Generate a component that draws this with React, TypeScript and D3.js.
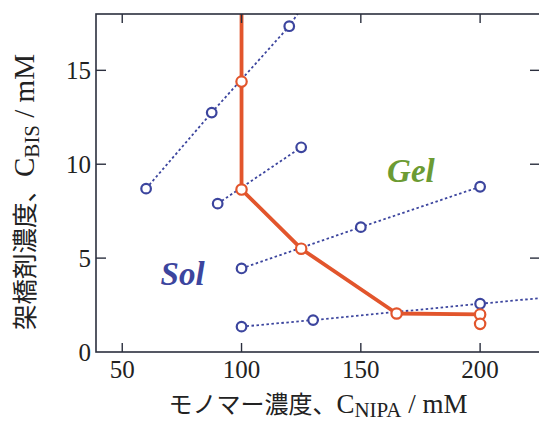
import React from 'react';
import * as d3 from 'd3';

// gel / sol phase diagram: NIPA monomer vs BIS cross-linker concentration
const xTicks = [50, 100, 150, 200];
const yTicks = [0, 5, 10, 15];

// dotted blue series (measured samples)
const series1 = [[60, 8.7], [87.5, 12.75], [120, 17.35]];
const series2 = [[90, 7.9], [125, 10.9]];
const series3 = [[100, 4.45], [150, 6.65], [200, 8.8]];
const series4 = [[100, 1.35], [130, 1.7], [200, 2.57]];
const blueSeries = [series1, series2, series3, series4];
// where a dotted line runs on past its last sample (clipped by the frame)
const blueTails = [[124, 18.1], null, null, [226, 2.88]];

// orange gel/sol boundary
const boundaryLine = [[100, 19], [100, 14.4], [100, 8.65], [125, 5.5], [165, 2.05], [200, 2.0]];
const boundaryPoints = [[100, 14.4], [100, 8.65], [125, 5.5], [165, 2.05], [200, 2.0], [200, 1.5]];

// region labels
const gelLabel = { x: 171, y: 9.05, text: 'Gel' };
const solLabel = { x: 75.3, y: 3.57, text: 'Sol' };

const W = 539;
const H = 421;
const left = 96, right = 540, top = 14, bottom = 352;

const BLUE = '#3c459e';
const ORANGE = '#e2552c';
const GREEN = '#6c9b33';
const FRAME = '#2b2f3e';
const SERIF = "'Liberation Serif', 'Times New Roman', 'DejaVu Serif', serif";
const CJK = "'Noto Sans CJK JP', sans-serif";

export default function App() {
  const x = d3.scaleLinear().domain([39, 225.1]).range([left, right]);
  const y = d3.scaleLinear().domain([0, 18]).range([bottom, top]);
  const line = d3.line<number[]>().x(d => x(d[0])).y(d => y(d[1]));

  const serif = (size: number, extra = {}) => ({ fontFamily: SERIF, fontSize: size, ...extra });

  return (
    <svg width={W} height={H} style={{ position: 'absolute', left: 0, top: 0, background: '#fff' }}>
      <defs>
        <clipPath id="plot">
          <rect x={left} y={top} width={right - left} height={bottom - top} />
        </clipPath>
      </defs>

      <g clipPath="url(#plot)">
        {blueSeries.map((s, i) => (
          <path key={i} d={line(blueTails[i] ? [...s, blueTails[i] as number[]] : s) || ''}
            fill="none" stroke={BLUE} strokeWidth={1.8} strokeDasharray="2.5,2.5" />
        ))}
        <path d={line(boundaryLine) || ''} fill="none" stroke={ORANGE} strokeWidth={3.8} strokeLinejoin="round" />
        {blueSeries.flat().map((d, i) => (
          <circle key={'b' + i} cx={x(d[0])} cy={y(d[1])} r={4.8} fill="#fff" stroke={BLUE} strokeWidth={2.2} />
        ))}
        {boundaryPoints.map((d, i) => (
          <circle key={'o' + i} cx={x(d[0])} cy={y(d[1])} r={5.2} fill="#fff" stroke={ORANGE} strokeWidth={2.2} />
        ))}
      </g>

      {/* frame */}
      <rect x={left} y={top} width={right - left} height={bottom - top} fill="none" stroke={FRAME} strokeWidth={1.6} />
      {xTicks.map(t => (
        <g key={'xt' + t}>
          <line x1={x(t)} x2={x(t)} y1={bottom} y2={bottom - 9} stroke={FRAME} strokeWidth={1.4} />
          <line x1={x(t)} x2={x(t)} y1={top} y2={top + 9} stroke={FRAME} strokeWidth={1.4} />
          <text x={x(t)} y={bottom + 26} textAnchor="middle" style={serif(25)} fill="#222">{t}</text>
        </g>
      ))}
      {yTicks.map(t => (
        <g key={'yt' + t}>
          {t > 0 && <line x1={left} x2={left + 10} y1={y(t)} y2={y(t)} stroke={FRAME} strokeWidth={1.4} />}
          {t > 0 && <line x1={right} x2={right - 10} y1={y(t)} y2={y(t)} stroke={FRAME} strokeWidth={1.4} />}
          <text x={left - 5} y={y(t) + 8.5} textAnchor="end" style={serif(25)} fill="#222">{t}</text>
        </g>
      ))}

      {/* region labels */}
      <text x={x(gelLabel.x)} y={y(gelLabel.y)} textAnchor="middle"
        style={serif(33, { fontStyle: 'italic', fontWeight: 'bold' })} fill={GREEN}>{gelLabel.text}</text>
      <text x={x(solLabel.x)} y={y(solLabel.y)} textAnchor="middle"
        style={serif(33, { fontStyle: 'italic', fontWeight: 'bold' })} fill={BLUE}>{solLabel.text}</text>

      {/* axis titles */}
      <text x={(left + right) / 2} y={413} textAnchor="middle" fill="#222">
        <tspan style={{ fontFamily: CJK, fontSize: 24 }}>モノマー濃度、</tspan>
        <tspan style={serif(27)}>C</tspan>
        <tspan style={serif(21)} dy={4}>NIPA</tspan>
        <tspan style={serif(27)} dy={-4}> / mM</tspan>
      </text>
      <text transform={`translate(34,${(top + bottom) / 2 + 9}) rotate(-90)`} textAnchor="middle" fill="#222">
        <tspan style={{ fontFamily: CJK, fontSize: 25.5 }}>架橋剤濃度、</tspan>
        <tspan style={serif(29)}>C</tspan>
        <tspan style={serif(21)} dy={5}>BIS</tspan>
        <tspan style={serif(29)} dy={-5}> / mM</tspan>
      </text>
    </svg>
  );
}
